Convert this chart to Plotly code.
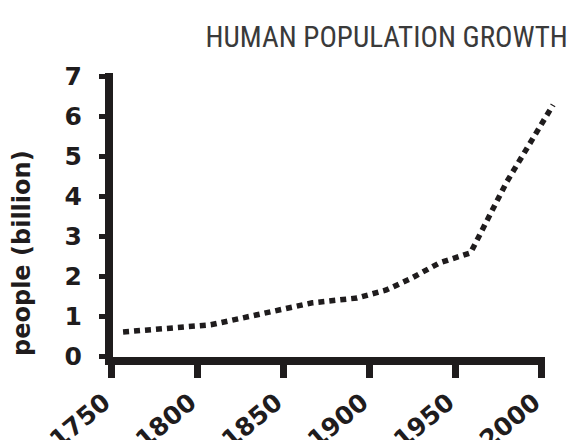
import plotly.graph_objects as go

# Values
years = [1757, 1808, 1867, 1893, 1910, 1924, 1941, 1959, 1980, 2007]
population = [0.60, 0.78, 1.33, 1.45, 1.65, 1.93, 2.33, 2.58, 4.35, 6.28]
x_ticks = [1750, 1800, 1850, 1900, 1950, 2000]
y_ticks = [0, 1, 2, 3, 4, 5, 6, 7]

title_text = "HUMAN POPULATION GROWTH"
y_title = "people (billion)"

INK = "#1f1c1d"
TICK_FONT = dict(family="'DejaVu Sans', sans-serif", size=25, color=INK, weight="bold")

fig = go.Figure()
fig.add_trace(go.Scatter(
    x=years, y=population, mode="lines",
    line=dict(color=INK, width=5.5, dash="6px,5px"),
    hoverinfo="skip", showlegend=False,
))

fig.update_layout(
    width=569, height=440,
    margin=dict(l=110, r=9, t=73, b=83, autoexpand=False),
    paper_bgcolor="white", plot_bgcolor="white",
    hovermode=False,
    title=dict(
        text=title_text, xref="container", x=0.998, xanchor="right",
        yref="container", y=0.916, yanchor="middle",
        font=dict(family="'Roboto Condensed', 'DejaVu Sans Condensed', 'Liberation Sans Narrow', Roboto, sans-serif",
                  size=29, color="#3a3a3a", weight=400),
    ),
    xaxis=dict(
        range=[1749.4, 2011], tickvals=x_ticks, ticktext=[str(v) for v in x_ticks],
        showgrid=False, zeroline=False, showline=False,
        ticks="outside", ticklen=20, tickwidth=7, tickcolor=INK,
        tickangle=-40, tickfont=TICK_FONT, ticklabelstandoff=0, ticklabelshift=-7,
        automargin=False,
    ),
    yaxis=dict(
        range=[-0.025, 7.075], tickvals=y_ticks,
        showgrid=False, zeroline=False, showline=False,
        ticks="outside", ticklen=10, tickwidth=5, tickcolor=INK,
        tickfont=TICK_FONT, ticklabelstandoff=12, automargin=False,
    ),
    shapes=[
        dict(type="line", xref="paper", yref="paper",
             x0=-0.01111, x1=0.96667, y0=-0.01408, y1=-0.01408,
             line=dict(color=INK, width=8), layer="above"),
        dict(type="line", xref="paper", yref="paper",
             x0=-0.00222, x1=-0.00222, y0=-0.02817, y1=1.0,
             line=dict(color=INK, width=8), layer="above"),
    ],
    annotations=[dict(
        text=y_title, xref="paper", yref="paper", x=-0.1956, y=0.3662,
        xanchor="center", yanchor="middle", textangle=-90, showarrow=False,
        font=dict(family="'DejaVu Sans', sans-serif", size=24, color=INK, weight="bold"),
    )],
)

fig.write_html(
    "out.html",
    config={"displayModeBar": False},
    post_script="document.body.style.margin='0';document.body.style.overflow='hidden';",
)
